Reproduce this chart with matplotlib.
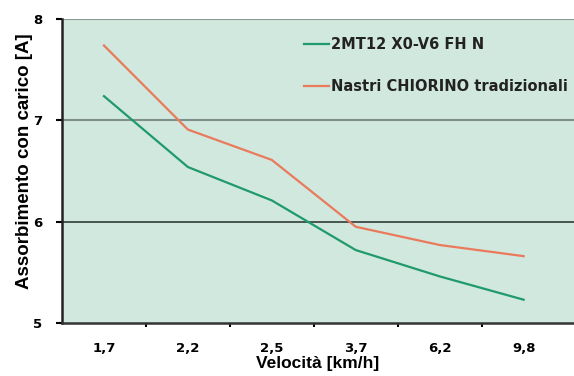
import numpy as np
import matplotlib.pyplot as plt

plt.rcParams['font.family'] = ['Liberation Sans', 'DejaVu Sans']

velocita = ['1,7', '2,2', '2,5', '3,7', '6,2', '9,8']
mt12 = [7.24, 6.54, 6.21, 5.72, 5.46, 5.23]
chiorino = [7.74, 6.91, 6.61, 5.95, 5.77, 5.66]

fig = plt.figure(figsize=(5.74, 3.76), dpi=100)
ax = fig.add_axes([0.108, 0.141, 0.892, 0.808])
ax.set_facecolor('#d1e8de')

x = np.arange(len(velocita))
ax.axhline(8, color='#8a9a95', lw=1.5, zorder=1)
ax.axhline(7, color='#7f8f8a', lw=1.5, zorder=1)
ax.axhline(6, color='#3c4a46', lw=1.3, zorder=1)

ax.plot(x, mt12, color='#1f9a6c', lw=1.6, label='2MT12 X0-V6 FH N', zorder=3)
ax.plot(x, chiorino, color='#ea7a5c', lw=1.6, label='Nastri CHIORINO tradizionali', zorder=3)

tick_font = {'family': 'DejaVu Sans', 'weight': 'bold', 'size': 9.5}
ax.set_xlim(-0.5, 5.6)
ax.set_ylim(5, 8)
ax.set_yticks([5, 6, 7, 8])
ax.set_yticklabels(['5', '6', '7', '8'], fontdict=tick_font)
ax.set_xticks(x)
ax.set_xticklabels(velocita, fontdict=tick_font)
ax.set_xticks(x[:-1] + 0.5, minor=True)
ax.tick_params(axis='x', which='major', length=0, pad=14)
ax.tick_params(axis='x', which='minor', length=3, width=1.5, direction='out')
ax.tick_params(axis='y', length=4, width=1.5, direction='out', pad=10)

for s in ['top', 'right']:
    ax.spines[s].set_visible(False)
ax.spines['left'].set_linewidth(1.8)
ax.spines['bottom'].set_linewidth(1.8)
ax.spines['bottom'].set_color('#333333')
ax.spines['left'].set_color('#222222')

ax.set_ylabel('Assorbimento con carico [A]', fontweight='bold', fontsize=13.5)
ax.set_xlabel('Velocità [km/h]', fontweight='bold', fontsize=12.5)
ax.xaxis.set_label_coords(0.50, -0.108)
ax.yaxis.set_label_coords(-0.057, 0.533)

leg = ax.legend(loc='upper right', bbox_to_anchor=(1.0, 0.96), frameon=False,
                prop={'family': 'DejaVu Sans', 'weight': 'bold', 'size': 10.5},
                handlelength=1.7, handletextpad=0.15,
                labelspacing=1.85, borderaxespad=0.0)
for t in leg.get_texts():
    t.set_color('#222222')

fig.savefig('out.png', dpi=100)
